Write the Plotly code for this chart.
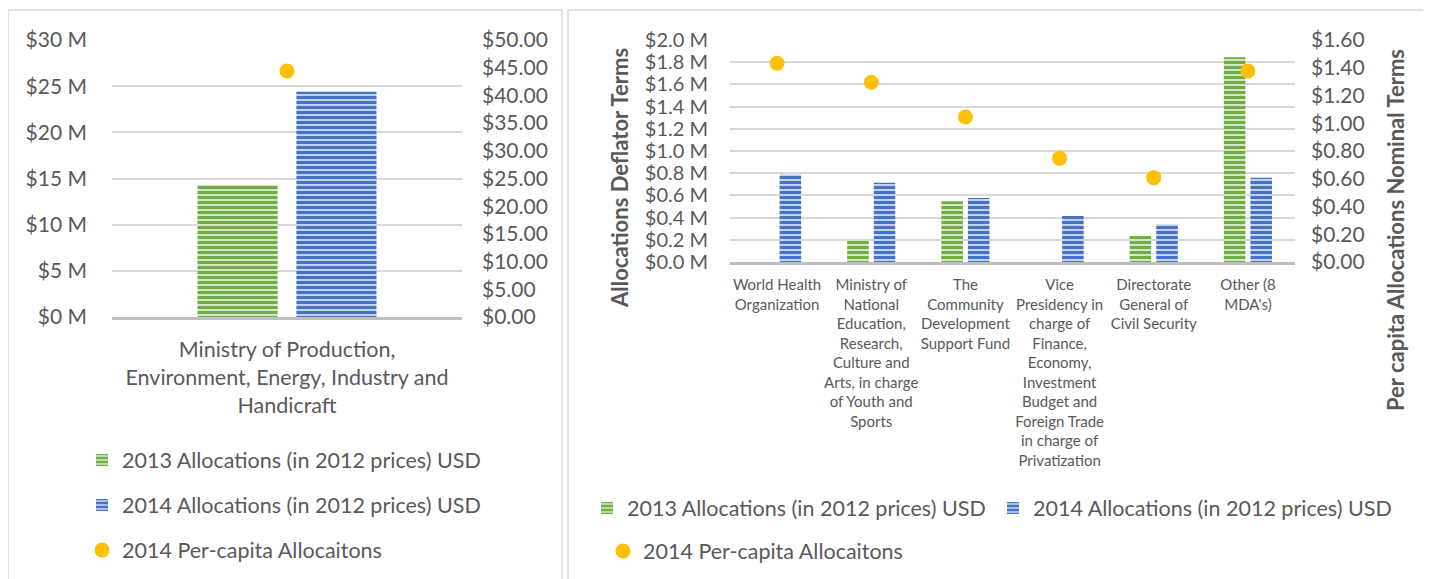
import plotly.graph_objects as go

# page is offset by the 8px body margin, so the figure is sized to the remaining area
OFF = 8
W, H = 1431 - OFF, 579 - OFF

# ---------------- data ----------------
left_categories = ["Ministry of Production,<br>Environment, Energy, Industry and<br>Handicraft"]
left_2013 = [14.3e6]
left_2014 = [24.4e6]
left_percapita = [44.4]

right_categories = [
    "World Health<br>Organization",
    "Ministry of<br>National<br>Education,<br>Research,<br>Culture and<br>Arts, in charge<br>of Youth and<br>Sports",
    "The<br>Community<br>Development<br>Support Fund",
    "Vice<br>Presidency in<br>charge of<br>Finance,<br>Economy,<br>Investment<br>Budget and<br>Foreign Trade<br>in charge of<br>Privatization",
    "Directorate<br>General of<br>Civil Security",
    "Other (8<br>MDA's)",
]
right_2013 = [0, 0.20e6, 0.547e6, 0, 0.234e6, 1.844e6]
right_2014 = [0.79e6, 0.714e6, 0.577e6, 0.414e6, 0.34e6, 0.76e6]
right_percapita = [1.432, 1.295, 1.045, 0.747, 0.608, 1.377]

series_names = ["2013 Allocations (in 2012 prices) USD",
                "2014 Allocations (in 2012 prices) USD",
                "2014 Per-capita Allocaitons"]

left_y_ticks = [0, 5e6, 10e6, 15e6, 20e6, 25e6, 30e6]
left_y_text = ["$0 M", "$5 M", "$10 M", "$15 M", "$20 M", "$25 M", "$30 M"]
left_y2_ticks = [0, 5, 10, 15, 20, 25, 30, 35, 40, 45, 50]
left_y2_text = ["$0.00", "$5.00", "$10.00", "$15.00", "$20.00", "$25.00",
                "$30.00", "$35.00", "$40.00", "$45.00", "$50.00"]
right_y_ticks = [0, 0.2e6, 0.4e6, 0.6e6, 0.8e6, 1.0e6, 1.2e6, 1.4e6, 1.6e6, 1.8e6, 2.0e6]
right_y_text = ["$0.0 M", "$0.2 M", "$0.4 M", "$0.6 M", "$0.8 M", "$1.0 M",
                "$1.2 M", "$1.4 M", "$1.6 M", "$1.8 M", "$2.0 M"]
right_y2_ticks = [0, 0.2, 0.4, 0.6, 0.8, 1.0, 1.2, 1.4, 1.6]
right_y2_text = ["$0.00", "$0.20", "$0.40", "$0.60", "$0.80", "$1.00",
                 "$1.20", "$1.40", "$1.60"]

# ---------------- styles ----------------
GREEN, GREEN_BG = "#70ad47", "#d3e6c6"
BLUE, BLUE_BG = "#4472c4", "#c3d2ee"
GOLD = "#ffc000"
TXT = "#595959"
GRID = "#d9d9d9"
FONT = "Lato"
TICK_SIZE = 21
LEG_SIZE = 21.5


def fx(p):
    return (p - OFF) / W


def fy(p):
    return 1 - (p - OFF) / H


def pattern(fg, bg):
    return dict(shape="-", fgcolor=fg, bgcolor=bg, size=5, solidity=0.6, fillmode="replace")


fig = go.Figure()

# left chart
fig.add_trace(go.Bar(x=left_categories, y=left_2013, name=series_names[0],
                     marker=dict(color=GREEN, line=dict(width=0), pattern=pattern(GREEN, GREEN_BG)),
                     xaxis="x", yaxis="y", legend="legend", showlegend=True))
fig.add_trace(go.Bar(x=left_categories, y=left_2014, name=series_names[1],
                     marker=dict(color=BLUE, line=dict(width=0), pattern=pattern(BLUE, BLUE_BG)),
                     xaxis="x", yaxis="y", legend="legend2", showlegend=True))
fig.add_trace(go.Scatter(x=left_categories, y=left_percapita, name=series_names[2], mode="markers",
                         marker=dict(color=GOLD, size=15),
                         xaxis="x", yaxis="y2", legend="legend3", showlegend=True))

# right chart
fig.add_trace(go.Bar(x=right_categories, y=right_2013, name=series_names[0],
                     marker=dict(color=GREEN, line=dict(width=0), pattern=pattern(GREEN, GREEN_BG)),
                     xaxis="x2", yaxis="y3", legend="legend4", showlegend=True))
fig.add_trace(go.Bar(x=right_categories, y=right_2014, name=series_names[1],
                     marker=dict(color=BLUE, line=dict(width=0), pattern=pattern(BLUE, BLUE_BG)),
                     xaxis="x2", yaxis="y3", legend="legend5", showlegend=True))
fig.add_trace(go.Scatter(x=right_categories, y=right_percapita, name=series_names[2], mode="markers",
                         marker=dict(color=GOLD, size=15),
                         xaxis="x2", yaxis="y4", legend="legend6", showlegend=True))

tickfont = dict(family=FONT, size=TICK_SIZE, color=TXT)
tickfont_r = dict(family=FONT, size=20, color=TXT)


def leg(text_x, center_y):
    # plotly puts legend text ~40px right of the legend's left edge
    return dict(x=fx(text_x - 40), y=fy(center_y), xanchor="left", yanchor="middle",
                orientation="v", font=dict(family=FONT, size=LEG_SIZE, color=TXT),
                bgcolor="rgba(0,0,0,0)", itemwidth=30)


fig.update_layout(
    width=W, height=H,
    showlegend=True,
    margin=dict(l=0, r=0, t=0, b=0, autoexpand=False),
    paper_bgcolor="white", plot_bgcolor="white",
    barmode="group", bargap=0.435, bargroupgap=0.19,
    font=dict(family=FONT, color=TXT),
    xaxis=dict(domain=[fx(112), fx(462)], anchor="y", showline=True, linecolor="#bfbfbf",
               linewidth=3, ticks="", tickfont=dict(family=FONT, size=21.5, color=TXT),
               ticklabelstandoff=11),
    yaxis=dict(domain=[fy(317), fy(40)], anchor="x", range=[0, 30e6],
               tickvals=left_y_ticks, ticktext=left_y_text, showgrid=True,
               gridcolor=GRID, gridwidth=1.5, zeroline=False, tickfont=tickfont,
               ticklabelstandoff=24),
    yaxis2=dict(overlaying="y", anchor="x", side="right", range=[0, 50],
                tickvals=left_y2_ticks, ticktext=left_y2_text, showgrid=False,
                zeroline=False, tickfont=tickfont, ticklabelstandoff=19),
    xaxis2=dict(domain=[fx(730), fx(1295)], anchor="y3", showline=True, linecolor="#bfbfbf",
                linewidth=3, ticks="", tickfont=dict(family=FONT, size=15, color=TXT),
                ticklabelstandoff=7),
    yaxis3=dict(domain=[fy(262), fy(40)], anchor="x2", range=[0, 2.0e6],
                tickvals=right_y_ticks, ticktext=right_y_text, showgrid=True,
                gridcolor=GRID, gridwidth=1.5, zeroline=False, tickfont=tickfont_r,
                ticklabelstandoff=21),
    yaxis4=dict(overlaying="y3", anchor="x2", side="right", range=[0, 1.6],
                tickvals=right_y2_ticks, ticktext=right_y2_text, showgrid=False,
                zeroline=False, tickfont=tickfont, ticklabelstandoff=15),
    legend=leg(122, 460),
    legend2=leg(122, 505),
    legend3=leg(122, 550),
    legend4=leg(627, 508),
    legend5=leg(1033, 508),
    legend6=leg(643, 551),
    shapes=[
        dict(type="rect", xref="paper", yref="paper", x0=fx(8), x1=fx(562), y0=-0.05, y1=fy(10),
             line=dict(color=GRID, width=1.5), layer="below"),
        dict(type="rect", xref="paper", yref="paper", x0=fx(568), x1=1.02, y0=-0.05, y1=fy(10),
             line=dict(color=GRID, width=1.5), layer="below"),
    ],
    annotations=[
        dict(text="<b>Allocations Deflator Terms</b>", xref="paper", yref="paper",
             x=fx(619), y=fy(178), textangle=-90, showarrow=False,
             font=dict(family=FONT, size=22, color=TXT), xanchor="center", yanchor="middle"),
        dict(text="<b>Per capita Allocations Nominal Terms</b>", xref="paper", yref="paper",
             x=fx(1395), y=fy(230), textangle=-90, showarrow=False,
             font=dict(family=FONT, size=22, color=TXT), xanchor="center", yanchor="middle"),
    ],
)

fig.write_html("out.html")
